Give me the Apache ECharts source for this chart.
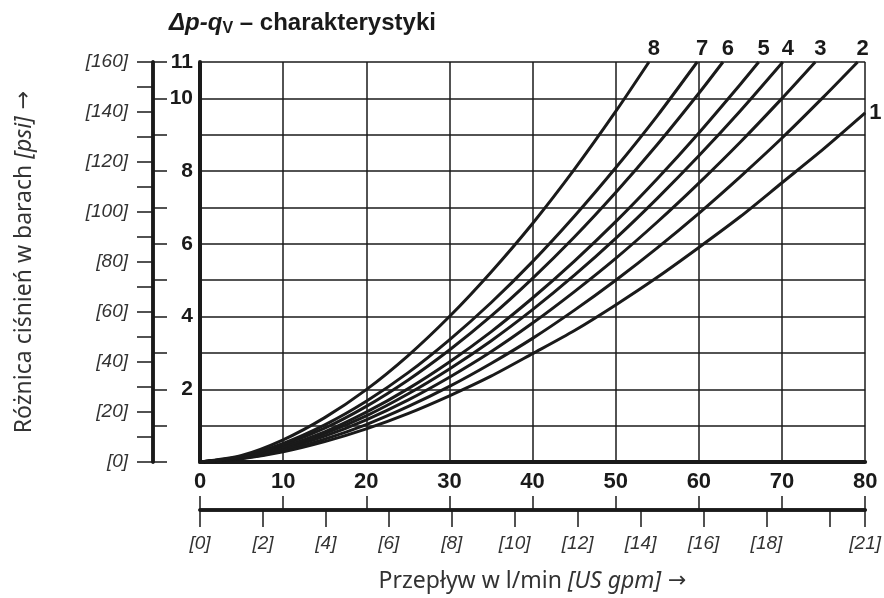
<!DOCTYPE html>
<html>
<head>
<meta charset="utf-8">
<script src="https://cdn.jsdelivr.net/npm/echarts@6/dist/echarts.min.js"></script>
<style>
html, body { margin: 0; padding: 0; background: #fff; }
#chart { width: 884px; height: 598px; }
</style>
</head>
<body>
<div id="chart"></div>
<script>
// przepływ l/min - punkty odczytu z wykresu
var flowLpm = [0, 5, 10, 15, 20, 25, 30, 35, 40, 45, 50, 55, 60, 65, 70, 75, 80];
// spadek ciśnienia w barach (odczyt z wykresu), krzywe 1..8
var curve1 = [0, 0.09, 0.28, 0.56, 0.91, 1.33, 1.82, 2.36, 2.98, 3.61, 4.32, 5.08, 5.90, 6.75, 7.68, 8.61];
var curve2 = [0, 0.10, 0.31, 0.63, 1.03, 1.52, 2.08, 2.71, 3.40, 4.17, 5.00, 5.89, 6.84, 7.85, 8.91, 10.04];
var curve3 = [0, 0.11, 0.35, 0.71, 1.16, 1.70, 2.33, 3.03, 3.82, 4.68, 5.60, 6.60, 7.67, 8.80, 10.00];
var curve4 = [0, 0.12, 0.39, 0.78, 1.27, 1.87, 2.56, 3.33, 4.19, 5.13, 6.15, 7.25, 8.42, 9.66];
var curve5 = [0, 0.13, 0.42, 0.83, 1.37, 2.01, 2.75, 3.58, 4.51, 5.52, 6.61, 7.79, 9.05, 10.39];
var curve6 = [0, 0.14, 0.47, 0.93, 1.53, 2.25, 3.08, 4.01, 5.05, 6.18, 7.41, 8.73, 10.14];
var curve7 = [0, 0.15, 0.51, 1.02, 1.67, 2.45, 3.36, 4.38, 5.51, 6.75, 8.09, 9.52];
var curve8 = [0, 0.18, 0.61, 1.22, 1.99, 2.92, 4.00, 5.22, 6.56, 8.04, 9.64];
// punkt końcowy każdej krzywej
var curveNames = ['1', '2', '3', '4', '5', '6', '7', '8'];
var curveEndFlow = [80, 79.1, 74.0, 70.1, 67.2, 62.9, 59.8, 54.0];
var curveEndBar = [9.6, 11, 11, 11, 11, 11, 11, 11];

// podziałki osi
var barLabelValues = [2, 4, 6, 8, 10, 11];
var psiLabelValues = [0, 20, 40, 60, 80, 100, 120, 140, 160];
var LPM_PER_GPM = 3.785;
var gpmMax = 80 / LPM_PER_GPM;
var gpmTickValues = [0, 2, 4, 6, 8, 10, 12, 14, 16, 18, 20, gpmMax];
var gpmLabelValues = [0, 2, 4, 6, 8, 10, 12, 14, 16, 18, gpmMax];
var gpmLabels = ['[0]', '[2]', '[4]', '[6]', '[8]', '[10]', '[12]', '[14]', '[16]', '[18]', '[21]'];

var INK = '#1a1a1a';
var NUM_FONT = "'Liberation Sans', Arial, sans-serif";
var TXT_FONT = "'Noto Sans', 'Liberation Sans', sans-serif";

var myChart = echarts.init(document.getElementById('chart'));

var allCurves = [curve1, curve2, curve3, curve4, curve5, curve6, curve7, curve8];
var series = allCurves.map(function (vals, k) {
  var data = vals.map(function (v, i) { return [flowLpm[i], v]; });
  data.push({
    value: [curveEndFlow[k], curveEndBar[k]],
    label: k === 0
      ? { show: true, position: 'right', distance: 4 }
      : { show: true, position: 'top', distance: 2, offset: [5, 0] }
  });
  return {
    name: curveNames[k],
    type: 'line',
    data: data,
    smooth: 0.25,
    symbol: 'circle',
    symbolSize: 0,
    showSymbol: true,
    clip: false,
    silent: true,
    lineStyle: { color: INK, width: 3 },
    itemStyle: { color: INK },
    label: {
      show: false,
      formatter: curveNames[k],
      color: INK,
      fontFamily: NUM_FONT,
      fontWeight: 'bold',
      fontSize: 22
    },
    emphasis: { disabled: true }
  };
});

var titleRich = {
  n: { fontFamily: TXT_FONT, fontSize: 23, color: '#333' },
  i: { fontFamily: TXT_FONT, fontSize: 23, fontStyle: 'italic', color: '#333' },
  a: { fontFamily: "'DejaVu Sans', sans-serif", fontSize: 22, color: '#333' }
};

var option = {
  animation: false,
  backgroundColor: '#fff',
  title: {
    text: '{i|Δp-q}{s|V}{n| – charakterystyki}',
    left: 164,
    top: 5,
    textStyle: {
      rich: {
        i: { fontFamily: NUM_FONT, fontWeight: 'bold', fontStyle: 'italic', fontSize: 24, color: INK, lineHeight: 27 },
        s: { fontFamily: NUM_FONT, fontWeight: 'bold', fontSize: 16, color: INK, verticalAlign: 'bottom', lineHeight: 20 },
        n: { fontFamily: NUM_FONT, fontWeight: 'bold', fontSize: 24, color: INK, lineHeight: 27 }
      }
    }
  },
  grid: { left: 200, right: 17, top: 62, bottom: 136 },
  xAxis: [
    {
      type: 'value', position: 'bottom', min: 0, max: 80, interval: 10,
      axisLine: { onZero: false, lineStyle: { color: INK, width: 4 } },
      axisTick: { show: false },
      axisLabel: { color: INK, fontFamily: NUM_FONT, fontWeight: 'bold', fontSize: 22, margin: 9 },
      splitLine: { show: true, lineStyle: { color: INK, width: 1.5 } }
    },
    {
      type: 'value', position: 'bottom', offset: 48, min: 0, max: 80, interval: 10,
      axisLine: { onZero: false, lineStyle: { color: INK, width: 3.5 } },
      axisTick: { inside: true, length: 14, lineStyle: { color: INK, width: 1.5 } },
      axisLabel: { show: false },
      splitLine: { show: false }
    },
    {
      type: 'value', position: 'bottom', offset: 48, min: 0, max: gpmMax,
      axisLine: { onZero: false, lineStyle: { color: INK, width: 3.5 } },
      axisTick: { length: 17, customValues: gpmTickValues, lineStyle: { color: INK, width: 1.5 } },
      axisLabel: {
        customValues: gpmLabelValues,
        color: '#333', fontFamily: NUM_FONT, fontStyle: 'italic', fontSize: 19, margin: 24,
        formatter: function (v) {
          var i = gpmLabelValues.indexOf(v);
          return i >= 0 ? gpmLabels[i] : '';
        }
      },
      splitLine: { show: false },
      name: '{n|Przepływ w l/min }{i|[US gpm]}{a| →}',
      nameLocation: 'middle',
      nameGap: 60,
      nameTextStyle: { rich: titleRich }
    }
  ],
  yAxis: [
    {
      type: 'value', position: 'left', min: 0, max: 11, interval: 1,
      axisLine: { onZero: false, lineStyle: { color: INK, width: 4 } },
      axisTick: { show: false },
      axisLabel: { customValues: barLabelValues, color: INK, fontFamily: NUM_FONT, fontWeight: 'bold', fontSize: 21, margin: 7 },
      splitLine: { show: true, lineStyle: { color: INK, width: 1.5 } }
    },
    {
      type: 'value', position: 'left', offset: 47, min: 0, max: 11, interval: 1,
      axisLine: { onZero: false, lineStyle: { color: INK, width: 3.5 } },
      axisTick: { inside: true, length: 14, lineStyle: { color: INK, width: 1.5 } },
      axisLabel: { show: false },
      splitLine: { show: false }
    },
    {
      type: 'value', position: 'left', offset: 47, min: 0, max: 160, interval: 10,
      axisLine: { onZero: false, lineStyle: { color: INK, width: 3.5 } },
      axisTick: { length: 16, lineStyle: { color: INK, width: 1.5 } },
      axisLabel: {
        customValues: psiLabelValues,
        color: '#333', fontFamily: NUM_FONT, fontStyle: 'italic', fontSize: 19, margin: 25,
        formatter: function (v) { return '[' + v + ']'; }
      },
      splitLine: { show: false },
      name: '{n|Różnica ciśnień w barach }{i|[psi]}{a| →}',
      nameLocation: 'middle',
      nameRotate: 90,
      nameGap: 117,
      nameTextStyle: { rich: titleRich }
    }
  ],
  series: series
};

myChart.setOption(option);
</script>
</body>
</html>
